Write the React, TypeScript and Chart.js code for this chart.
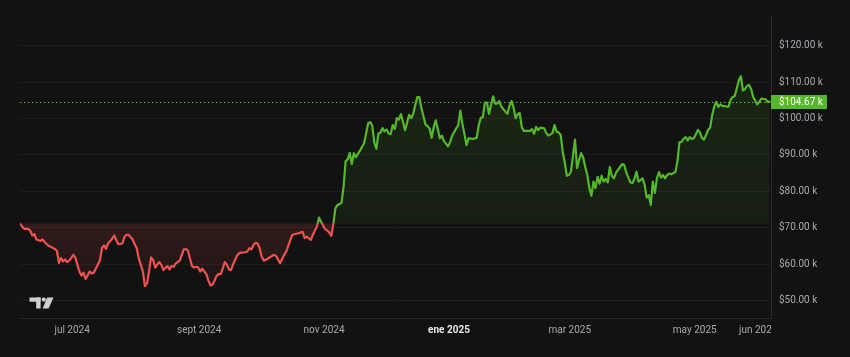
import React, { useEffect, useRef } from "react";
import { Chart, registerables } from "chart.js";

Chart.register(...registerables);

// ---- data (prices in thousands of USD) ----
const START_DATE = "2024-06-07";
const dayOffsets = [
  0, 2, 4, 5, 6, 7, 8, 10, 11, 12, 14, 15, 17, 18, 19, 20, 21, 22, 23, 24, 25, 26, 27, 28, 29, 30,
  31, 32, 33, 34, 35, 36, 37, 39, 40, 41, 42, 43, 45, 46, 47, 48, 50, 51, 52, 53, 55, 56, 57, 58,
  60, 61, 62, 63, 64, 65, 66, 67, 68, 69, 70, 71, 72, 73, 74, 75, 76, 77, 78, 79, 80, 81, 82, 83,
  84, 85, 86, 87, 88, 89, 90, 91, 92, 93, 94, 95, 96, 97, 98, 99, 100, 101, 102, 103, 104, 106,
  107, 108, 110, 111, 112, 113, 114, 115, 116, 117, 118, 119, 120, 124, 125, 127, 129, 130, 132,
  133, 136, 138, 139, 140, 142, 143, 145, 146, 147, 149, 150, 151, 152, 153, 154, 155, 157, 158,
  159, 160, 161, 162, 163, 164, 165, 166, 168, 169, 170, 171, 172, 173, 174, 175, 176, 177, 178,
  179, 180, 181, 182, 183, 184, 185, 186, 187, 188, 190, 191, 192, 193, 194, 195, 196, 198, 199,
  200, 201, 202, 203, 204, 205, 206, 207, 209, 210, 211, 213, 214, 215, 216, 217, 218, 219, 221,
  223, 224, 225, 226, 227, 228, 229, 230, 231, 232, 233, 234, 235, 237, 238, 239, 240, 241, 242,
  243, 244, 245, 246, 248, 249, 250, 251, 252, 253, 254, 256, 257, 258, 260, 261, 262, 263, 264,
  265, 266, 267, 268, 269, 271, 272, 273, 274, 275, 276, 277, 278, 279, 280, 281, 282, 283, 284,
  285, 286, 287, 288, 289, 290, 291, 293, 294, 295, 296, 298, 299, 300, 301, 302, 303, 304, 305,
  306, 307, 308, 309, 310, 311, 312, 313, 314, 315, 316, 317, 318, 320, 321, 322, 323, 324, 325,
  326, 327, 328, 329, 330, 331, 332, 333, 334, 335, 336, 337, 338, 339, 340, 341, 342, 343, 345,
  346, 347, 348, 349, 350, 351, 352, 353, 354, 355, 356, 357, 358, 360, 361, 362, 364, 365, 366,
];
const prices = [
  71.1, 69.7, 69.7, 69.2, 67.9, 68.3, 66.8, 66.4, 66.8, 66.1, 65.0, 64.8, 64.2, 63.7, 60.4, 61.7,
  60.8, 61.3, 60.6, 61.0, 61.7, 62.6, 61.9, 59.9, 58.0, 56.9, 57.7, 56.0, 56.9, 58.0, 57.5, 57.7,
  58.8, 61.0, 64.4, 65.2, 64.2, 65.7, 67.0, 67.9, 66.6, 65.5, 65.7, 67.5, 68.1, 68.1, 66.8, 65.5,
  64.4, 61.6, 58.0, 54.0, 54.7, 58.0, 61.9, 61.2, 59.1, 59.9, 60.6, 59.9, 58.4, 59.0, 59.5, 58.6,
  59.5, 59.3, 60.2, 60.6, 61.0, 62.6, 64.1, 64.2, 63.7, 61.5, 59.5, 59.1, 59.3, 59.1, 58.0, 58.8,
  58.0, 57.3, 55.5, 54.2, 54.4, 55.5, 56.8, 57.3, 57.3, 58.8, 60.6, 59.9, 58.6, 58.4, 59.9, 62.4,
  63.0, 63.2, 63.3, 63.5, 64.4, 64.1, 65.3, 65.9, 65.7, 64.4, 62.1, 61.0, 61.2, 62.6, 62.3, 60.3,
  62.6, 63.5, 66.7, 68.1, 68.5, 68.9, 67.2, 67.6, 66.7, 68.1, 70.4, 72.8, 71.7, 69.6, 69.3, 68.7,
  67.8, 71.1, 75.4, 76.2, 76.9, 81.3, 88.3, 88.8, 90.6, 87.5, 90.5, 89.4, 90.3, 91.2, 93.2, 95.9,
  98.7, 99.0, 98.1, 93.4, 91.7, 95.9, 96.1, 97.4, 96.5, 97.0, 95.9, 95.7, 98.2, 97.1, 100.1, 99.7,
  101.2, 99.1, 96.8, 101.0, 100.1, 101.3, 103.7, 105.9, 105.9, 102.8, 98.4, 97.9, 97.3, 94.7,
  97.7, 99.5, 97.1, 94.6, 95.3, 93.8, 92.4, 93.5, 95.3, 97.3, 98.2, 102.2, 98.6, 95.8, 92.7, 94.6,
  94.4, 94.7, 98.2, 100.2, 100.4, 104.4, 104.4, 101.3, 103.7, 106.1, 104.1, 104.1, 104.8, 103.3,
  101.9, 101.3, 103.5, 104.8, 103.0, 100.1, 101.2, 101.5, 97.7, 96.6, 96.6, 96.6, 97.1, 95.8,
  97.7, 96.8, 97.5, 97.3, 96.0, 95.3, 96.0, 98.2, 96.4, 96.2, 95.5, 90.9, 88.0, 84.3, 84.5, 85.4,
  94.2, 86.4, 88.7, 90.5, 89.3, 86.7, 84.5, 80.9, 78.8, 82.7, 80.9, 84.0, 82.1, 84.3, 82.7, 83.4,
  82.5, 86.7, 84.3, 83.6, 85.1, 86.7, 87.5, 87.3, 85.3, 82.5, 82.3, 83.4, 85.4, 82.7, 83.1, 83.6,
  81.8, 78.3, 79.0, 76.3, 82.7, 79.6, 83.6, 85.3, 83.8, 84.5, 83.6, 84.5, 84.9, 84.7, 85.3, 88.2,
  93.5, 93.6, 94.4, 94.9, 94.0, 94.9, 94.4, 94.6, 95.7, 96.9, 96.2, 94.6, 94.2, 95.5, 96.9, 97.5,
  101.0, 103.3, 104.6, 103.2, 103.9, 103.5, 103.3, 103.3, 105.2, 105.9, 106.2, 108.3, 110.5,
  111.6, 107.7, 108.1, 109.0, 109.2, 108.1, 105.9, 103.9, 104.6, 105.5, 105.3, 104.6, 104.67,
];
const BASELINE = 71.2;
const LAST_PRICE = 104.67;
const yTickValues = [50, 60, 70, 80, 90, 100, 110, 120];
const xTickDates = ["2024-07-01", "2024-09-01", "2024-11-01", "2025-01-01", "2025-03-01", "2025-05-01", "2025-06-01"];
const xTickLabels = ["jul 2024", "sept 2024", "nov 2024", "ene 2025", "mar 2025", "may 2025", "jun 2025"];
const xTickBold = [false, false, false, true, false, false, false];

// ---- styling ----
const BG = "#121212";
const GREEN = "#55b82b";
const RED = "#ef5350";
const TEXT = "#a7a9b0";
const FONT = "Roboto, 'Noto Sans', sans-serif";
const X_MIN = 0;
const X_MAX = 366.7;
const Y_MIN = 45.25;
const Y_MAX = 128.15;

const dayOf = (iso: string) => (Date.parse(iso) - Date.parse(START_DATE)) / 86400000;
const fmt = (v: number) => "$" + v.toFixed(2) + " k";
const clamp01 = (v: number) => Math.max(0, Math.min(1, v));

function baseFrac(chart: any) {
  const a = chart.chartArea;
  const yb = chart.scales.y.getPixelForValue(BASELINE);
  return clamp01((yb - a.top) / (a.bottom - a.top));
}

const overlayPlugin = {
  id: "overlay",
  beforeDatasetsDraw(chart: any) {
    const { ctx, chartArea: a, scales } = chart;
    const y = Math.round(scales.y.getPixelForValue(LAST_PRICE)) + 0.5;
    ctx.save();
    ctx.strokeStyle = GREEN;
    ctx.lineWidth = 1;
    ctx.setLineDash([1.5, 2.5]);
    ctx.beginPath();
    ctx.moveTo(a.left, y);
    ctx.lineTo(a.right, y);
    ctx.stroke();
    ctx.restore();
  },
  afterDraw(chart: any) {
    const { ctx, chartArea: a, scales } = chart;
    // x-axis labels, clipped to the pane width
    ctx.save();
    ctx.beginPath();
    ctx.rect(0, a.bottom + 1, a.right, chart.height - a.bottom);
    ctx.clip();
    ctx.textAlign = "center";
    ctx.textBaseline = "middle";
    xTickDates.forEach((d, i) => {
      const x = scales.x.getPixelForValue(dayOf(d)) + 3;
      ctx.font = (xTickBold[i] ? "bold " : "") + "10px " + FONT;
      ctx.fillStyle = xTickBold[i] ? "#e8e8e8" : TEXT;
      ctx.fillText(xTickLabels[i], x, a.bottom + 12);
    });
    ctx.restore();

    // last price label
    const y = scales.y.getPixelForValue(LAST_PRICE);
    ctx.save();
    ctx.fillStyle = GREEN;
    ctx.fillRect(a.right, Math.round(y) - 7, 56, 14);
    ctx.fillStyle = "#ffffff";
    ctx.font = "10px " + FONT;
    ctx.textAlign = "left";
    ctx.textBaseline = "middle";
    ctx.fillText(fmt(LAST_PRICE), a.right + 8, Math.round(y) + 0.5);
    ctx.restore();

    // small logo mark bottom-left
    ctx.save();
    ctx.fillStyle = "#d0d0d0";
    ctx.fillRect(29.5, 297.5, 11, 4.2);
    ctx.fillRect(36.2, 297.5, 4.4, 11);
    ctx.beginPath();
    ctx.arc(43.8, 299.6, 2.1, 0, Math.PI * 2);
    ctx.fill();
    ctx.beginPath();
    ctx.moveTo(47.2, 297.5);
    ctx.lineTo(53.5, 297.5);
    ctx.lineTo(48.6, 308.5);
    ctx.lineTo(42.6, 308.5);
    ctx.closePath();
    ctx.fill();
    ctx.restore();
  },
};

export default function App() {
  const ref = useRef<HTMLCanvasElement | null>(null);

  useEffect(() => {
    document.body.style.margin = "0";
    document.body.style.background = BG;
    const canvas = ref.current;
    if (!canvas) return;
    const points = dayOffsets.map((d, i) => ({ x: d, y: prices[i] }));

    const chart = new Chart(canvas, {
      type: "line",
      data: {
        datasets: [
          {
            data: points,
            borderWidth: 2.2,
            pointRadius: 0,
            tension: 0,
            borderJoinStyle: "round",
            borderCapStyle: "round",
            fill: { target: { value: BASELINE } },
            borderColor: (c: any) => {
              const chart = c.chart;
              const a = chart.chartArea;
              if (!a) return GREEN;
              const f = baseFrac(chart);
              const g = chart.ctx.createLinearGradient(0, a.top, 0, a.bottom);
              g.addColorStop(0, GREEN);
              g.addColorStop(f, GREEN);
              g.addColorStop(f, RED);
              g.addColorStop(1, RED);
              return g;
            },
            backgroundColor: (c: any) => {
              const chart = c.chart;
              const a = chart.chartArea;
              if (!a) return "rgba(0,0,0,0)";
              const f = baseFrac(chart);
              const g = chart.ctx.createLinearGradient(0, a.top, 0, a.bottom);
              g.addColorStop(0, "rgba(85,184,43,0.14)");
              g.addColorStop(f, "rgba(85,184,43,0.08)");
              g.addColorStop(f, "rgba(239,83,80,0.14)");
              g.addColorStop(1, "rgba(239,83,80,0.02)");
              return g;
            },
          } as any,
        ],
      },
      options: {
        responsive: false,
        maintainAspectRatio: false,
        animation: false,
        devicePixelRatio: 1,
        layout: { padding: { left: 20, top: 16, right: 0, bottom: 0 } },
        plugins: { legend: { display: false }, tooltip: { enabled: false } },
        scales: {
          x: {
            type: "linear",
            min: X_MIN,
            max: X_MAX,
            grid: { display: false, drawTicks: false },
            border: { display: true, color: "#262626" },
            ticks: { display: false },
            afterFit: (s: any) => {
              s.height = 39;
            },
          },
          y: {
            type: "linear",
            position: "right",
            min: Y_MIN,
            max: Y_MAX,
            afterBuildTicks: (s: any) => {
              s.ticks = yTickValues.map((v) => ({ value: v }));
            },
            grid: { color: "#1d1d1d", drawTicks: false },
            border: { display: true, color: "#2a2a2a" },
            ticks: {
              padding: 8,
              color: TEXT,
              font: { family: FONT, size: 10 },
              callback: (v: any) => fmt(Number(v)),
            },
            afterFit: (s: any) => {
              s.width = 79;
            },
          },
        },
      } as any,
      plugins: [overlayPlugin],
    });
    return () => chart.destroy();
  }, []);

  return (
    <div style={{ position: "fixed", left: 0, top: 0, width: 850, height: 357, background: BG }}>
      <canvas ref={ref} width={850} height={357} style={{ display: "block", width: 850, height: 357 }} />
    </div>
  );
}
